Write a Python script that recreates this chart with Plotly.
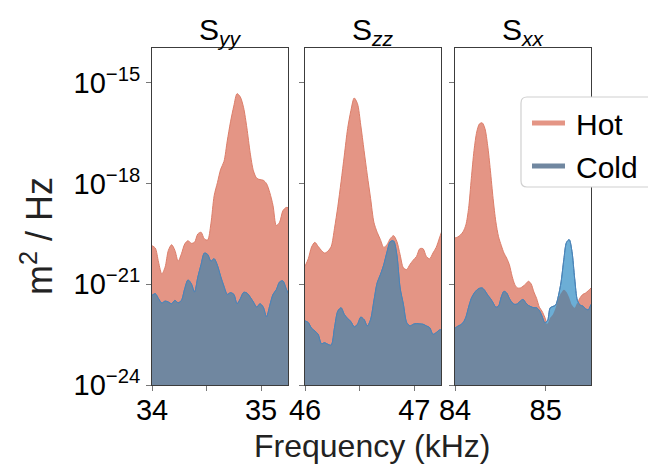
import numpy as np
import plotly.graph_objects as go

W, H = 648, 467
FONT = "Liberation Sans, Arial, sans-serif"

# Power spectral densities, stored as log10(PSD / (m^2/Hz)), sampled on a
# common frequency grid (kHz) for each displacement component.
freq_yy = [34.00, 34.03, 34.06, 34.09, 34.12, 34.15, 34.18, 34.21, 34.24, 34.27,
           34.30, 34.33, 34.36, 34.39, 34.42, 34.45, 34.48, 34.51, 34.54, 34.57,
           34.60, 34.63, 34.66, 34.69, 34.72, 34.75, 34.78, 34.81, 34.84, 34.87,
           34.90, 34.93, 34.96, 34.99, 35.02, 35.05, 35.08, 35.11, 35.14, 35.17,
           35.20, 35.23, 35.25]
hot_yy = [-19.85, -19.92, -20.34, -20.69, -20.49, -19.99, -19.82, -19.99, -20.31, -20.09,
          -19.80, -19.70, -19.78, -19.75, -19.50, -19.45, -19.65, -19.68, -19.20, -18.36,
          -17.97, -17.57, -17.34, -16.73, -16.16, -15.69, -15.32, -15.42, -15.74, -16.34,
          -17.08, -17.62, -17.84, -17.88, -17.90, -18.00, -18.27, -18.66, -19.25, -19.15,
          -18.81, -18.71, -18.72]
cold_yy = [-21.33, -21.28, -21.43, -21.56, -21.50, -21.53, -21.58, -21.48, -21.55, -21.48,
           -21.13, -20.87, -20.98, -21.23, -20.79, -20.41, -20.07, -20.11, -20.31, -20.24,
           -20.44, -20.77, -21.06, -21.30, -21.25, -21.30, -21.58, -21.43, -21.24, -21.26,
           -21.38, -21.53, -21.68, -21.58, -21.68, -21.97, -21.63, -21.30, -21.16, -20.93,
           -20.90, -21.13, -21.28]

freq_zz = [46.00, 46.03, 46.06, 46.09, 46.12, 46.15, 46.18, 46.21, 46.24, 46.27,
           46.30, 46.33, 46.36, 46.39, 46.42, 46.45, 46.48, 46.51, 46.54, 46.57,
           46.60, 46.63, 46.66, 46.69, 46.72, 46.75, 46.78, 46.81, 46.84, 46.87,
           46.90, 46.93, 46.96, 46.99, 47.02, 47.05, 47.08, 47.11, 47.14, 47.17,
           47.20, 47.23, 47.25]
hot_zz = [-20.46, -20.24, -19.89, -19.75, -19.87, -19.99, -20.07, -20.01, -19.87, -19.33,
          -18.69, -17.94, -17.15, -16.36, -15.82, -15.45, -15.62, -16.26, -17.01, -17.75,
          -18.44, -19.15, -19.45, -19.67, -19.90, -19.82, -19.64, -19.55, -19.72, -20.12,
          -20.51, -20.56, -20.41, -20.28, -20.17, -19.94, -19.94, -20.17, -20.24, -20.07,
          -19.90, -19.62, -19.43]
cold_zz = [-22.09, -22.14, -22.31, -22.39, -22.49, -22.77, -22.74, -22.79, -22.81, -22.29,
           -21.80, -21.70, -21.90, -22.02, -22.11, -22.27, -22.19, -21.98, -22.05, -22.24,
           -22.05, -21.50, -20.96, -20.71, -20.42, -20.04, -19.73, -19.71, -20.12, -21.11,
           -21.60, -22.14, -22.24, -22.19, -22.17, -22.18, -22.19, -22.24, -22.29, -22.49,
           -22.44, -22.36, -22.36]

freq_xx = [84.00, 84.03, 84.06, 84.09, 84.12, 84.15, 84.18, 84.21, 84.24, 84.27,
           84.30, 84.33, 84.36, 84.39, 84.42, 84.45, 84.48, 84.51, 84.54, 84.57,
           84.60, 84.63, 84.66, 84.69, 84.72, 84.75, 84.78, 84.81, 84.84, 84.87,
           84.90, 84.93, 84.96, 84.99, 85.02, 85.05, 85.08, 85.11, 85.14, 85.17,
           85.20, 85.23, 85.26, 85.29, 85.32, 85.35, 85.38, 85.41, 85.44, 85.47,
           85.50]
hot_xx = [-19.62, -19.59, -19.53, -19.43, -19.23, -18.74, -17.85, -17.01, -16.46, -16.22,
          -16.19, -16.36, -16.86, -17.60, -18.44, -19.13, -19.58, -19.84, -20.07, -20.22,
          -20.42, -20.76, -21.01, -21.11, -21.11, -21.06, -20.99, -20.91, -20.99, -21.23,
          -21.42, -21.68, -21.80, -21.98, -22.17, -22.00, -21.90, -21.70, -21.42, -21.26,
          -21.16, -21.23, -21.40, -21.62, -21.70, -21.56, -21.40, -21.30, -21.26, -21.19,
          -21.11]
cold_xx = [-22.31, -22.25, -22.21, -22.14, -21.98, -21.68, -21.42, -21.27, -21.17, -21.12,
           -21.11, -21.19, -21.32, -21.42, -21.55, -21.68, -21.65, -21.38, -21.21, -21.26,
           -21.42, -21.55, -21.60, -21.58, -21.50, -21.45, -21.55, -21.63, -21.67, -21.70,
           -21.70, -21.78, -21.95, -22.14, -22.09, -21.70, -21.66, -21.62, -21.35, -20.93,
           -20.27, -19.75, -19.67, -20.02, -20.83, -21.48, -21.62, -21.65, -21.73, -21.76,
           -21.60]

panel_titles = ["S<sub><i>yy</i></sub>", "S<sub><i>zz</i></sub>", "S<sub><i>xx</i></sub>"]
x_ranges = [[34.0, 35.247], [46.0, 47.244], [84.0, 85.50]]
x_tickvals = [[34, 34.5, 35], [46, 46.5, 47], [84, 85]]
x_ticktext = [["34", "", "35"], ["46", "", "47"], ["84", "85"]]
y_tickvals = [1e-24, 1e-21, 1e-18, 1e-15]
y_ticktext = ["10<sup>\u221224</sup>", "10<sup>\u221221</sup>",
              "10<sup>\u221218</sup>", "10<sup>\u221215</sup>"]
series_names = ["Hot", "Cold"]

HOT_FILL = "rgb(228,149,133)"
HOT_LINE = "rgb(220,126,106)"
COLD_FILL = "rgb(108,174,214)"
COLD_LINE = "rgb(74,132,184)"
BOTH_FILL = "rgb(112,135,160)"

# pixel layout of the three panels
px_x = [(152, 288), (305, 441), (455, 591)]
px_top, px_bot = 48, 385
y_dom = [1 - px_bot / H, 1 - px_top / H]


def px(x):
    return x / W


def py(y):
    return 1 - y / H


fig = go.Figure()
data = [(freq_yy, hot_yy, cold_yy), (freq_zz, hot_zz, cold_zz), (freq_xx, hot_xx, cold_xx)]

for i, (f, hot, cold) in enumerate(data):
    xa = "x" if i == 0 else f"x{i+1}"
    ya = "y" if i == 0 else f"y{i+1}"
    hot_v = 10 ** np.asarray(hot)
    cold_v = 10 ** np.asarray(cold)
    both_v = np.minimum(hot_v, cold_v)
    common = dict(x=f, xaxis=xa, yaxis=ya, showlegend=False, hoverinfo="skip",
                  line_shape="spline")
    fig.add_trace(go.Scatter(y=hot_v, fill="tozeroy", fillcolor=HOT_FILL, mode="lines",
                             line=dict(color=HOT_LINE, width=1, smoothing=0.8), **common))
    fig.add_trace(go.Scatter(y=cold_v, fill="tozeroy", fillcolor=COLD_FILL, mode="lines",
                             line=dict(color=COLD_LINE, width=1, smoothing=0.8), **common))
    fig.add_trace(go.Scatter(y=both_v, fill="tozeroy", fillcolor=BOTH_FILL, mode="lines",
                             line=dict(color=BOTH_FILL, width=0, smoothing=0.8), **common))
    fig.add_trace(go.Scatter(y=cold_v, mode="lines",
                             line=dict(color=COLD_LINE, width=1, smoothing=0.8), **common))

axis_common = dict(showline=True, mirror=True, linecolor="#3c3c3c", linewidth=1,
                   showgrid=False, zeroline=False, ticks="outside", ticklen=5,
                   tickwidth=1, tickcolor="#777777", automargin=False)
layout = {}
for i in range(3):
    x0, x1 = px_x[i]
    xk = "xaxis" if i == 0 else f"xaxis{i+1}"
    yk = "yaxis" if i == 0 else f"yaxis{i+1}"
    ya = "y" if i == 0 else f"y{i+1}"
    xa = "x" if i == 0 else f"x{i+1}"
    layout[xk] = dict(domain=[x0 / W, x1 / W], range=x_ranges[i], anchor=ya,
                      tickvals=x_tickvals[i], ticktext=x_ticktext[i],
                      ticklabelstandoff=-6,
                      tickfont=dict(size=29, color="black", family=FONT), **axis_common)
    layout[yk] = dict(domain=y_dom, type="log", range=[-24, -13.96], anchor=xa,
                      tickvals=y_tickvals, ticktext=y_ticktext if i == 0 else [""] * 4,
                      tickfont=dict(size=29, color="black", family=FONT), **axis_common)

annotations = []
for i, t in enumerate(panel_titles):
    cx = (px_x[i][0] + px_x[i][1]) / 2 / W
    annotations.append(dict(text=t, x=cx, y=py(31), xref="paper", yref="paper",
                            xanchor="center", yanchor="middle", showarrow=False,
                            font=dict(size=30, color="black", family=FONT)))
annotations.append(dict(text="Frequency (kHz)", x=px(372), y=py(446), xref="paper",
                        yref="paper", xanchor="center", yanchor="middle", showarrow=False,
                        font=dict(size=32, color="#222222", family=FONT)))
annotations.append(dict(text="m<sup>2</sup> / Hz", x=px(37), y=py(236), xref="paper",
                        yref="paper", xanchor="center", yanchor="middle", showarrow=False,
                        textangle=-90,
                        font=dict(size=36, color="#222222", family=FONT)))

# legend: rounded frame, colour swatches and series names
lx0, ly0, lx1, ly1, r = 521, 97, 660, 187, 6
path = (f"M {px(lx0 + r)},{py(ly0)} L {px(lx1 - r)},{py(ly0)} "
        f"Q {px(lx1)},{py(ly0)} {px(lx1)},{py(ly0 + r)} L {px(lx1)},{py(ly1 - r)} "
        f"Q {px(lx1)},{py(ly1)} {px(lx1 - r)},{py(ly1)} L {px(lx0 + r)},{py(ly1)} "
        f"Q {px(lx0)},{py(ly1)} {px(lx0)},{py(ly1 - r)} L {px(lx0)},{py(ly0 + r)} "
        f"Q {px(lx0)},{py(ly0)} {px(lx0 + r)},{py(ly0)} Z")
shapes = [dict(type="path", path=path, xref="paper", yref="paper", layer="above",
               fillcolor="white", line=dict(color="#d0d0d0", width=1.2))]
for name, col, yc in zip(series_names, [HOT_FILL, BOTH_FILL], [123, 166]):
    shapes.append(dict(type="line", xref="paper", yref="paper", layer="above",
                       x0=px(532), x1=px(565), y0=py(yc), y1=py(yc),
                       line=dict(color=col, width=5)))
    annotations.append(dict(text=name, x=px(574), y=py(yc + 1), xref="paper", yref="paper",
                            xanchor="left", yanchor="middle", showarrow=False,
                            font=dict(size=30, color="black", family=FONT)))

fig.update_layout(
    width=W, height=H,
    margin=dict(l=0, r=0, t=0, b=0, autoexpand=False),
    paper_bgcolor="white", plot_bgcolor="white",
    font=dict(family=FONT, color="black"),
    showlegend=False,
    annotations=annotations,
    shapes=shapes,
    **layout,
)

fig.write_html("out.html")
